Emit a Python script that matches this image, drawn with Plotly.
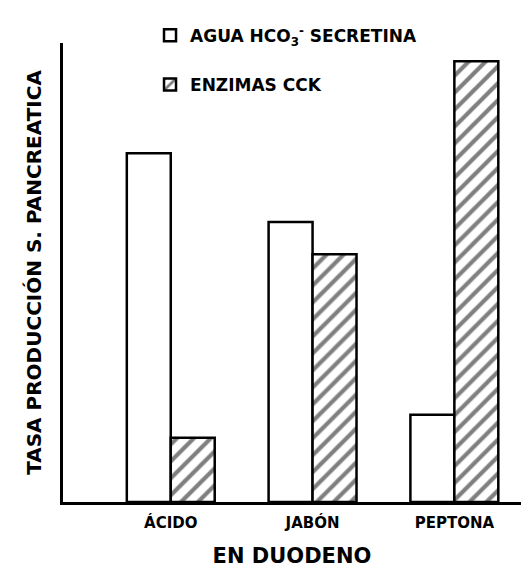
import plotly.graph_objects as go

categorias = ["ÁCIDO", "JABÓN", "PEPTONA"]
agua_secretina = [76, 61, 19]
enzimas_cck = [14, 54, 96]

FONT = "DejaVu Sans"

fig = go.Figure()
fig.add_trace(go.Bar(
    x=categorias, y=agua_secretina,
    name="AGUA HCO<sub>3</sub><sup>-</sup> SECRETINA",
    legendgroup="a",
    marker=dict(color="white", line=dict(color="black", width=2.5)),
))
fig.add_trace(go.Bar(
    x=categorias, y=enzimas_cck,
    name="ENZIMAS CCK",
    legendgroup="b",
    marker=dict(color="white", line=dict(color="black", width=2.5),
                pattern=dict(shape="/", fgcolor="black", bgcolor="white",
                             size=12, solidity=0.35)),
))

fig.update_layout(
    width=513, height=563,
    margin=dict(l=55, r=0, t=35, b=69),
    paper_bgcolor="white", plot_bgcolor="white",
    barmode="group", bargap=0.38, bargroupgap=0,
    font=dict(family=FONT, color="black"),
    showlegend=True,
    legend=dict(x=0.19, y=1.055, xanchor="left", yanchor="top",
                font=dict(size=17, family=FONT, weight="bold"),
                bgcolor="rgba(0,0,0,0)", tracegroupgap=24),
    xaxis=dict(range=[-0.76, 2.47], showline=True, linecolor="black",
               linewidth=3, ticks="", showgrid=False, zeroline=False,
               ticklabelstandoff=5,
               tickfont=dict(size=15, family=FONT, weight="bold"),
               title=dict(text="EN DUODENO", standoff=18,
                          font=dict(size=21, family=FONT, weight="bold"))),
    yaxis=dict(range=[0, 100], showline=True, linecolor="black",
               linewidth=3, ticks="", showticklabels=False, showgrid=False,
               zeroline=False,
               title=dict(text="TASA PRODUCCIÓN S. PANCREATICA", standoff=14,
                          font=dict(size=20, family=FONT, weight="bold"))),
)

fig.write_html("out.html")
